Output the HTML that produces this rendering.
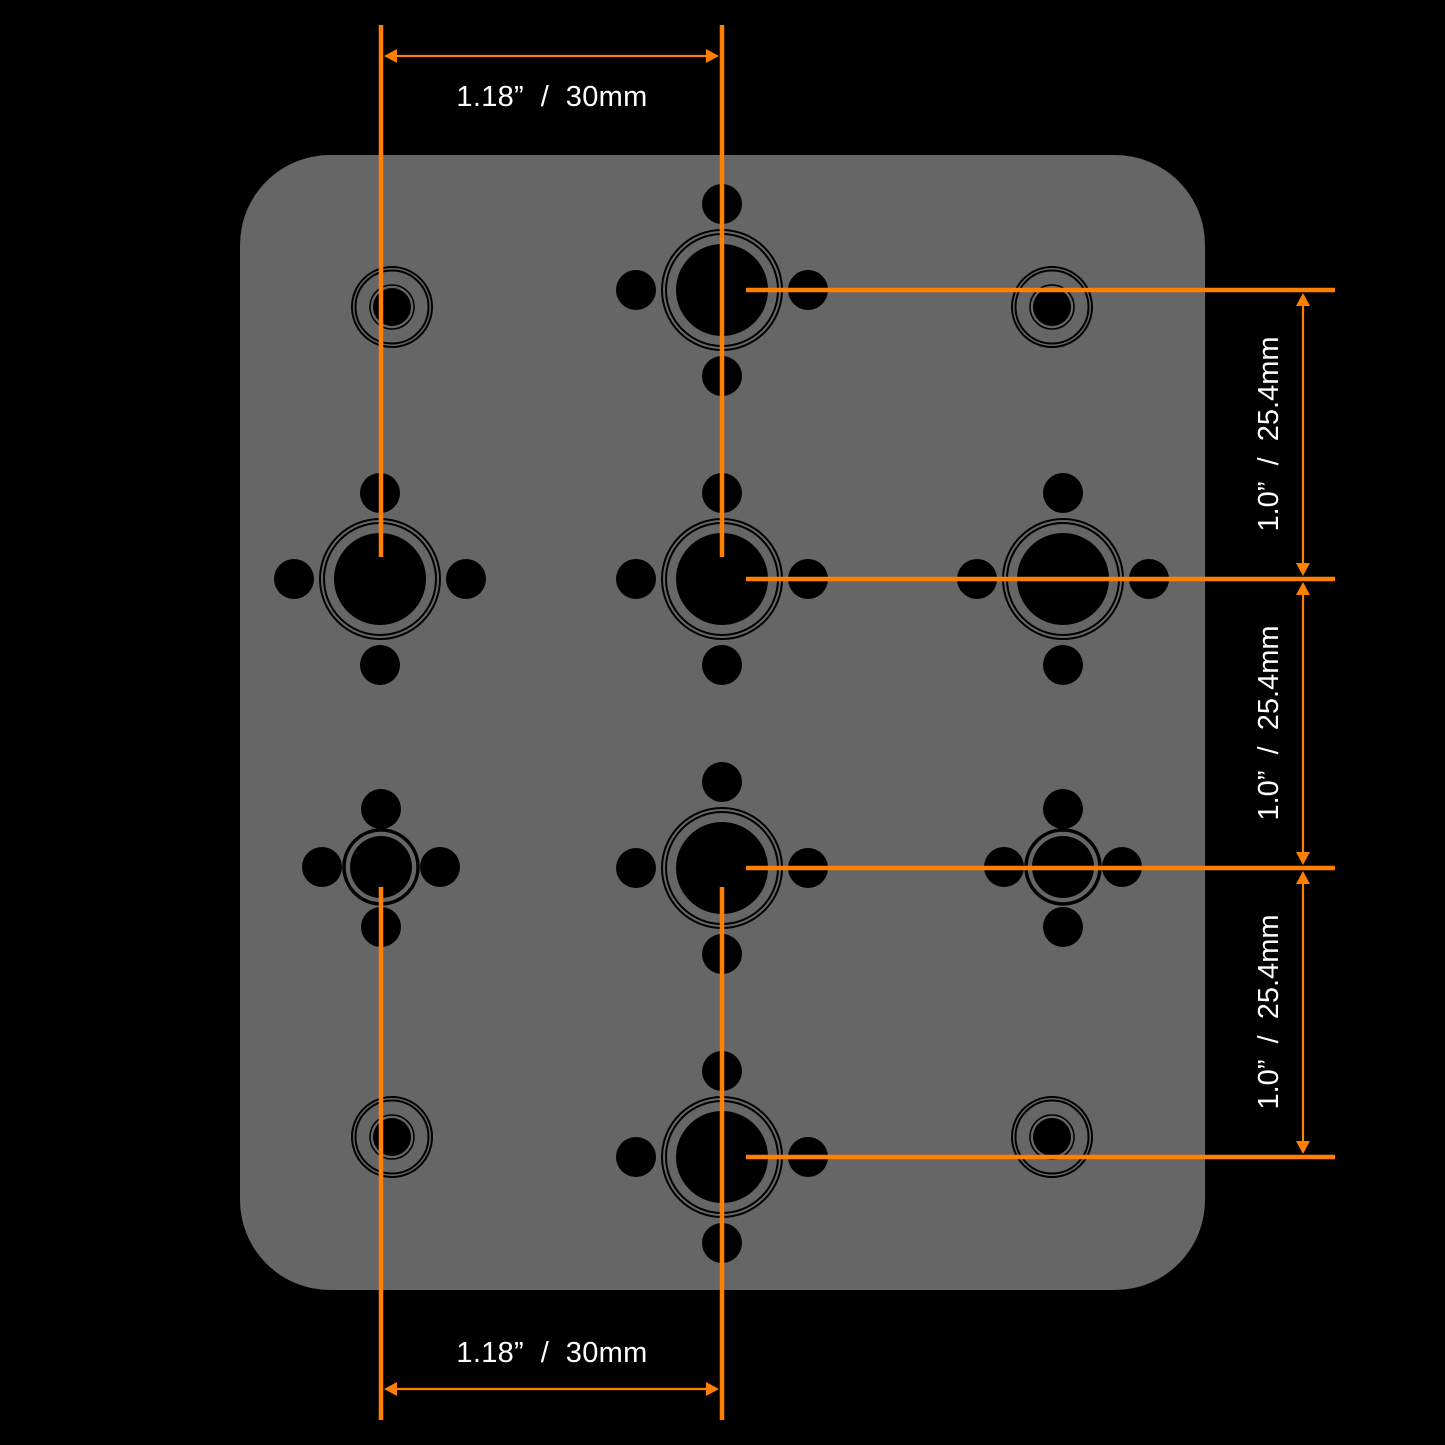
<!DOCTYPE html>
<html><head><meta charset="utf-8"><style>
html,body{margin:0;padding:0;background:#000;}
svg{display:block}
text{font-family:"Liberation Sans",sans-serif;fill:#fff;font-size:29px;white-space:pre}
</style></head><body>
<svg width="1445" height="1445" viewBox="0 0 1445 1445" xmlns="http://www.w3.org/2000/svg">
<rect x="0" y="0" width="1445" height="1445" fill="#000"/>
<rect x="240" y="155" width="965" height="1135" rx="90" ry="90" fill="#666"/>
<defs>
<g id="L">
<circle r="20" cx="0" cy="-86" fill="#000"/>
<circle r="20" cx="0" cy="86" fill="#000"/>
<circle r="20" cx="-86" cy="0" fill="#000"/>
<circle r="20" cx="86" cy="0" fill="#000"/>
<circle r="60" fill="none" stroke="#000" stroke-width="2"/>
<circle r="56" fill="none" stroke="#000" stroke-width="2"/>
<circle r="46" fill="#000"/>
</g>
<g id="M">
<circle r="20" cx="0" cy="-58" fill="#000"/>
<circle r="20" cx="0" cy="60" fill="#000"/>
<circle r="20" cx="-59" cy="0" fill="#000"/>
<circle r="20" cx="59" cy="0" fill="#000"/>
<circle r="37" fill="none" stroke="#000" stroke-width="3.5"/>
<circle r="31" fill="#000"/>
</g>
<g id="S">
<circle r="40" fill="none" stroke="#000" stroke-width="2"/>
<circle r="36.5" fill="none" stroke="#000" stroke-width="2"/>
<circle r="22" fill="none" stroke="#000" stroke-width="1.5"/>
<circle r="19" fill="#000"/>
</g>
</defs>
<use href="#L" x="722" y="290"/>
<use href="#L" x="380" y="579"/>
<use href="#L" x="722" y="579"/>
<use href="#L" x="1063" y="579"/>
<use href="#L" x="722" y="868"/>
<use href="#L" x="722" y="1157"/>
<use href="#M" x="381" y="867"/>
<use href="#M" x="1063" y="867"/>
<use href="#S" x="392" y="307"/>
<use href="#S" x="1052" y="307"/>
<use href="#S" x="392" y="1137"/>
<use href="#S" x="1052" y="1137"/>
<g stroke="#ff7f00" stroke-width="4.5">
<line x1="381" y1="25" x2="381" y2="557"/>
<line x1="722" y1="25" x2="722" y2="557"/>
<line x1="381" y1="887" x2="381" y2="1420"/>
<line x1="722" y1="887" x2="722" y2="1420"/>
<line x1="746" y1="290" x2="1335" y2="290"/>
<line x1="746" y1="579" x2="1335" y2="579"/>
<line x1="746" y1="868" x2="1335" y2="868"/>
<line x1="746" y1="1157" x2="1335" y2="1157"/>
</g>
<g stroke="#ff7f00" stroke-width="2.2">
<line x1="390" y1="56" x2="713" y2="56"/>
<line x1="390" y1="1389" x2="713" y2="1389"/>
<line x1="1303" y1="300" x2="1303" y2="569"/>
<line x1="1303" y1="589" x2="1303" y2="858"/>
<line x1="1303" y1="878" x2="1303" y2="1147"/>
</g>
<g fill="#ff7f00">
<polygon points="384,56 397,49 397,63"/>
<polygon points="719,56 706,49 706,63"/>
<polygon points="384,1389 397,1382 397,1396"/>
<polygon points="719,1389 706,1382 706,1396"/>
<polygon points="1303,293 1296,306 1310,306"/>
<polygon points="1303,576 1296,563 1310,563"/>
<polygon points="1303,582 1296,595 1310,595"/>
<polygon points="1303,865 1296,852 1310,852"/>
<polygon points="1303,871 1296,884 1310,884"/>
<polygon points="1303,1154 1296,1141 1310,1141"/>
</g>
<text x="552" y="106" text-anchor="middle" letter-spacing="0.3">1.18”  /  30mm</text>
<text x="552" y="1362" text-anchor="middle" letter-spacing="0.3">1.18”  /  30mm</text>
<text transform="translate(1278,434) rotate(-90)" text-anchor="middle">1.0”  /  25.4mm</text>
<text transform="translate(1278,723) rotate(-90)" text-anchor="middle">1.0”  /  25.4mm</text>
<text transform="translate(1278,1012) rotate(-90)" text-anchor="middle">1.0”  /  25.4mm</text>
</svg>
</body></html>
